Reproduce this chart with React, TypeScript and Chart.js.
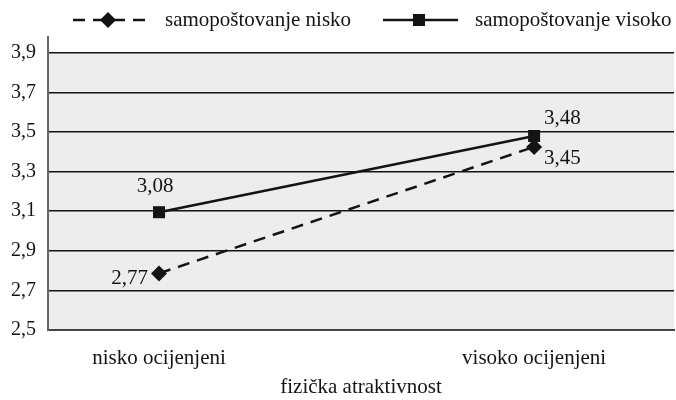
import { useEffect, useRef } from "react";
import { Chart, registerables } from "chart.js";

Chart.register(...registerables);

const categories = ["nisko ocijenjeni", "visoko ocijenjeni"];
const seriesNames = ["samopoštovanje nisko", "samopoštovanje visoko"];
const valuesNisko = [2.786, 3.425];
const valuesVisoko = [3.095, 3.48];
const labelsNisko = ["2,77", "3,45"];
const labelsVisoko = ["3,08", "3,48"];
const yTicks = [2.5, 2.7, 2.9, 3.1, 3.3, 3.5, 3.7, 3.9];
const xTitle = "fizička atraktivnost";

const FONT = "'Liberation Serif', 'Times New Roman', serif";
const INK = "#141414";

export default function App() {
  const ref = useRef<HTMLCanvasElement | null>(null);

  useEffect(() => {
    document.body.style.margin = "0";
    const canvas = ref.current;
    if (!canvas) return;

    const bgPlugin = {
      id: "bgFill",
      beforeDraw(chart: any) {
        const { ctx, chartArea, scales } = chart;
        const top = scales.y.getPixelForValue(yTicks[yTicks.length - 1]);
        ctx.save();
        ctx.fillStyle = "#ededed";
        ctx.fillRect(chartArea.left, top, chartArea.right - chartArea.left, chartArea.bottom - top);
        ctx.restore();
      },
    };

    const labelPlugin = {
      id: "pointLabels",
      afterDatasetsDraw(chart: any) {
        const { ctx } = chart;
        ctx.save();
        ctx.font = `21px ${FONT}`;
        ctx.fillStyle = INK;
        ctx.textBaseline = "middle";
        const m0 = chart.getDatasetMeta(0).data;
        const m1 = chart.getDatasetMeta(1).data;
        ctx.textAlign = "right";
        ctx.fillText(labelsNisko[0], m0[0].x - 11, m0[0].y + 5);
        ctx.textAlign = "left";
        ctx.fillText(labelsNisko[1], m0[1].x + 10, m0[1].y + 12);
        ctx.textAlign = "center";
        ctx.fillText(labelsVisoko[0], m1[0].x - 4, m1[0].y - 26);
        ctx.textAlign = "left";
        ctx.fillText(labelsVisoko[1], m1[1].x + 10, m1[1].y - 18);
        ctx.restore();
      },
    };

    const legendPlugin = {
      id: "customLegend",
      afterDraw(chart: any) {
        const { ctx } = chart;
        const y = 20;
        ctx.save();
        ctx.strokeStyle = INK;
        ctx.fillStyle = INK;
        ctx.lineWidth = 2.5;
        ctx.setLineDash([12, 8]);
        ctx.beginPath();
        ctx.moveTo(73, y);
        ctx.lineTo(148, y);
        ctx.stroke();
        ctx.setLineDash([]);
        ctx.beginPath();
        ctx.moveTo(108 - 8, y);
        ctx.lineTo(108, y - 8);
        ctx.lineTo(108 + 8, y);
        ctx.lineTo(108, y + 8);
        ctx.closePath();
        ctx.fill();
        ctx.beginPath();
        ctx.moveTo(383, y);
        ctx.lineTo(458, y);
        ctx.stroke();
        ctx.fillRect(419 - 6, y - 6, 12, 12);
        ctx.font = `21px ${FONT}`;
        ctx.textBaseline = "middle";
        ctx.textAlign = "left";
        ctx.fillText(seriesNames[0], 165, y);
        ctx.fillText(seriesNames[1], 475, y);
        ctx.restore();
      },
    };

    const chart = new Chart(canvas, {
      type: "line",
      data: {
        datasets: [
          {
            label: seriesNames[0],
            data: valuesNisko.map((v, i) => ({ x: i, y: v })),
            borderColor: INK,
            backgroundColor: INK,
            borderWidth: 2.5,
            borderDash: [12, 8],
            pointStyle: "rectRot",
            pointRadius: 8,
            pointBorderWidth: 0,
            fill: false,
          },
          {
            label: seriesNames[1],
            data: valuesVisoko.map((v, i) => ({ x: i, y: v })),
            borderColor: INK,
            backgroundColor: INK,
            borderWidth: 2.5,
            pointStyle: "rect",
            pointRadius: 8.5,
            pointBorderWidth: 0,
            fill: false,
          },
        ],
      },
      options: {
        animation: false,
        responsive: true,
        maintainAspectRatio: false,
        layout: { autoPadding: false, padding: { top: 37, right: 2, left: 0, bottom: 0 } },
        plugins: {
          legend: { display: false },
          tooltip: { enabled: false },
        },
        scales: {
          x: {
            type: "linear",
            min: -0.296,
            max: 1.373,
            afterBuildTicks(scale: any) {
              scale.ticks = categories.map((_, i) => ({ value: i }));
            },
            afterFit(scale: any) {
              scale.height = 70;
              scale.paddingLeft = 0;
              scale.paddingRight = 0;
            },
            ticks: {
              callback: (v: any) => categories[Math.round(Number(v))] ?? "",
              font: { family: FONT, size: 21 },
              color: INK,
              padding: 16,
              maxRotation: 0,
              autoSkip: false,
            },
            grid: { display: false, drawTicks: false },
            border: { display: true, color: "#444", width: 2 },
            title: {
              display: true,
              text: xTitle,
              font: { family: FONT, size: 21 },
              color: INK,
              padding: { top: 7, bottom: 0 },
            },
          },
          y: {
            type: "linear",
            min: 2.5,
            max: 3.98,
            afterBuildTicks(scale: any) {
              scale.ticks = yTicks.map((v) => ({ value: v }));
            },
            afterFit(scale: any) {
              scale.width = 48;
              scale.paddingTop = 0;
              scale.paddingBottom = 0;
            },
            ticks: {
              callback: (v: any) => Number(v).toFixed(1).replace(".", ","),
              font: { family: FONT, size: 20 },
              color: INK,
              padding: 12,
            },
            grid: { color: INK, lineWidth: 1.5, drawTicks: false },
            border: { display: true, color: "#666", width: 2 },
          },
        },
      },
      plugins: [bgPlugin, labelPlugin, legendPlugin],
    });

    return () => chart.destroy();
  }, []);

  return (
    <div style={{ width: 676, height: 400, position: "relative", background: "#fff" }}>
      <canvas ref={ref} />
    </div>
  );
}
